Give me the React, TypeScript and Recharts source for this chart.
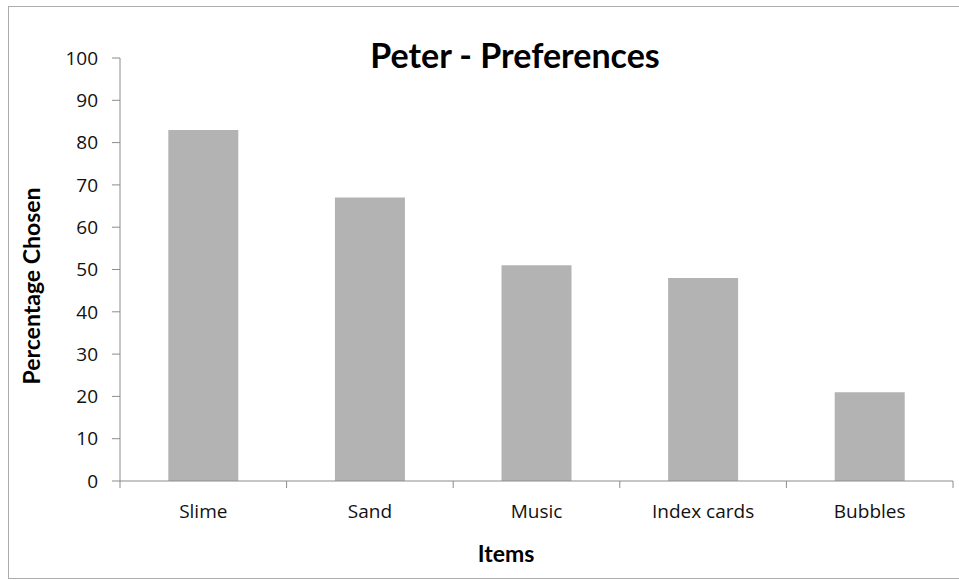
import { Bar, BarChart, XAxis, YAxis } from 'recharts';

const items = ['Slime', 'Sand', 'Music', 'Index cards', 'Bubbles'];
const percentChosen = [83, 67, 51, 48, 21];
const yTicks = [0, 10, 20, 30, 40, 50, 60, 70, 80, 90, 100];

const data = items.map((item, i) => ({ item, value: percentChosen[i] }));

const CHART_W = 950;
const CHART_H = 571;
const MARGIN = { top: 51, right: 6, bottom: 57, left: 51 };
const Y_AXIS_W = 60;
const X_AXIS_H = 40;
const BAND = (CHART_W - MARGIN.left - MARGIN.right - Y_AXIS_W) / items.length;

const AXIS_GRAY = '#8c8c8c';
const TICK_FONT = '"Open Sans", "Liberation Sans", sans-serif';
const BOLD_FONT = 'Lato, "Open Sans", sans-serif';

function CategoryTick(props: any) {
  const { x, y, payload, index } = props;
  const left = x - BAND / 2;
  const right = x + BAND / 2;
  return (
    <g>
      <line x1={left} y1={y} x2={left} y2={y + 7} stroke={AXIS_GRAY} strokeWidth={1} />
      {index === items.length - 1 && (
        <line x1={right} y1={y} x2={right} y2={y + 7} stroke={AXIS_GRAY} strokeWidth={1} />
      )}
      <text x={x} y={y + 37} textAnchor="middle" fill="#111" fontSize={19} fontFamily={TICK_FONT}>
        {payload.value}
      </text>
    </g>
  );
}

export default function App() {
  return (
    <div
      style={{
        position: 'absolute',
        left: 8,
        top: 6,
        width: 951,
        height: 573,
        boxSizing: 'border-box',
        border: '1px solid #acacac',
        borderRight: 'none',
        background: '#fff'
      }}
    >
      <BarChart width={CHART_W} height={CHART_H} data={data} margin={MARGIN} barCategoryGap="29%">
        <XAxis
          dataKey="item"
          height={X_AXIS_H}
          axisLine={{ stroke: AXIS_GRAY }}
          tickLine={false}
          tickSize={0}
          tickMargin={0}
          interval={0}
          tick={<CategoryTick />}
        />
        <YAxis
          width={Y_AXIS_W}
          domain={[0, 100]}
          ticks={yTicks}
          interval={0}
          axisLine={{ stroke: AXIS_GRAY }}
          tickLine={{ stroke: AXIS_GRAY }}
          tickSize={8}
          tickMargin={14}
          tick={{ fill: '#111', fontSize: 19, fontFamily: TICK_FONT }}
        />
        <Bar dataKey="value" fill="#b3b3b3" isAnimationActive={false} />
      </BarChart>
      <svg
        width={CHART_W}
        height={CHART_H}
        style={{ position: 'absolute', left: 0, top: 0, pointerEvents: 'none' }}
      >
        <text x={506} y={61} textAnchor="middle" fontSize={34} fontWeight={700} fontFamily={BOLD_FONT} fill="#000">
          Peter - Preferences
        </text>
        <text x={497} y={555} textAnchor="middle" fontSize={23} fontWeight={700} fontFamily={BOLD_FONT} fill="#000">
          Items
        </text>
        <text
          x={0}
          y={0}
          transform="translate(31, 279) rotate(-90)"
          textAnchor="middle"
          fontSize={23}
          fontWeight={700}
          fontFamily={BOLD_FONT}
          fill="#000"
        >
          Percentage Chosen
        </text>
      </svg>
    </div>
  );
}
